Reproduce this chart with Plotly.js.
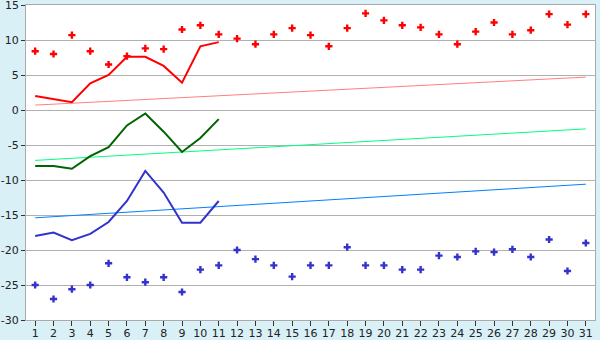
<!DOCTYPE html>
<html>
<head>
<meta charset="utf-8">
<script src="https://cdn.plot.ly/plotly-3.0.1.min.js"></script>
<style>html,body{margin:0;padding:0;background:#daf0f7;}#chart{width:600px;height:340px;}</style>
</head>
<body>
<div id="chart"></div>
<script>
var days = [];
for (var d = 1; d <= 31; d++) days.push(d);
var partDays = [1,2,3,4,5,6,7,8,9,10,11];

var maxRecord = [8.4,8.0,10.7,8.4,6.5,7.7,8.8,8.7,11.5,12.1,10.8,10.2,9.4,10.8,11.7,
                 10.7,9.1,11.7,13.8,12.8,12.1,11.8,10.8,9.4,11.2,12.5,10.8,11.4,13.7,12.2,13.7];
var minRecord = [-25.0,-27.0,-25.6,-25.0,-21.9,-23.9,-24.6,-23.9,-26.0,-22.8,-22.2,-20.0,-21.3,-22.2,-23.8,
                 -22.2,-22.2,-19.6,-22.2,-22.2,-22.8,-22.8,-20.8,-21.0,-20.2,-20.3,-19.9,-21.0,-18.5,-23.0,-19.0];
var maxActual = [2.0,1.6,1.1,3.8,5.0,7.6,7.6,6.3,3.9,9.1,9.7];
var meanActual = [-8.0,-8.0,-8.4,-6.6,-5.3,-2.2,-0.5,-3.1,-6.0,-4.0,-1.3];
var minActual = [-18.0,-17.5,-18.6,-17.7,-16.0,-13.0,-8.7,-11.8,-16.1,-16.1,-13.0];
var trendDays = [1,31];
var maxNormal = [0.7,4.7];
var meanNormal = [-7.2,-2.7];
var minNormal = [-15.4,-10.6];
var yTickVals = [-30,-25,-20,-15,-10,-5,0,5,10,15];
var yTickText = ['-30','-25','-20','-15','-10','-5','0','5','10','15'];

var traces = [
  {x: trendDays, y: maxNormal, mode: 'lines', line: {color: '#ff8080', width: 1}},
  {x: trendDays, y: meanNormal, mode: 'lines', line: {color: '#00ff80', width: 1}},
  {x: trendDays, y: minNormal, mode: 'lines', line: {color: '#0080ff', width: 1}},
  {x: partDays, y: maxActual, mode: 'lines', line: {color: '#ff0000', width: 2}},
  {x: partDays, y: meanActual, mode: 'lines', line: {color: '#006400', width: 2}},
  {x: partDays, y: minActual, mode: 'lines', line: {color: '#3333cc', width: 2}},
  {x: days, y: maxRecord, mode: 'markers', marker: {symbol: 'cross', size: 6, color: '#ff0000', line: {width: 0}}},
  {x: days, y: minRecord, mode: 'markers', marker: {symbol: 'cross', size: 6, color: '#3333cc', line: {width: 0}}}
];

var topIdx = yTickVals.length - 1;
var layout = {
  width: 600, height: 340,
  margin: {l: 26, r: 5, t: 5, b: 20, pad: 0},
  paper_bgcolor: '#daf0f7',
  plot_bgcolor: '#ffffff',
  showlegend: false,
  font: {family: 'DejaVu Sans, Verdana, sans-serif', size: 11, color: '#222'},
  xaxis: {
    range: [0.5, 31.5], tickvals: days, ticks: 'outside', ticklen: 5, tickcolor: '#333',
    ticklabelstandoff: -2,
    showgrid: false, zeroline: false, showline: true, linecolor: '#aaaaaa', linewidth: 1, mirror: true,
    fixedrange: true
  },
  yaxis: {
    range: [-30, 15], tickvals: yTickVals, ticktext: yTickText, ticks: 'outside', ticklen: 4, tickcolor: '#333',
    showgrid: true, gridcolor: '#b0b0b0', gridwidth: 1, zeroline: false,
    showline: true, linecolor: '#aaaaaa', linewidth: 1, mirror: true, fixedrange: true
  },
  annotations: [{
    xref: 'paper', yref: 'y', x: 0, y: yTickVals[topIdx], text: yTickText[topIdx],
    showarrow: false, xanchor: 'right', yanchor: 'middle', xshift: -5,
    font: {family: 'DejaVu Sans, Verdana, sans-serif', size: 11, color: '#222'}
  }]
};

Plotly.newPlot('chart', traces, layout, {staticPlot: true, displayModeBar: false});
</script>
</body>
</html>
